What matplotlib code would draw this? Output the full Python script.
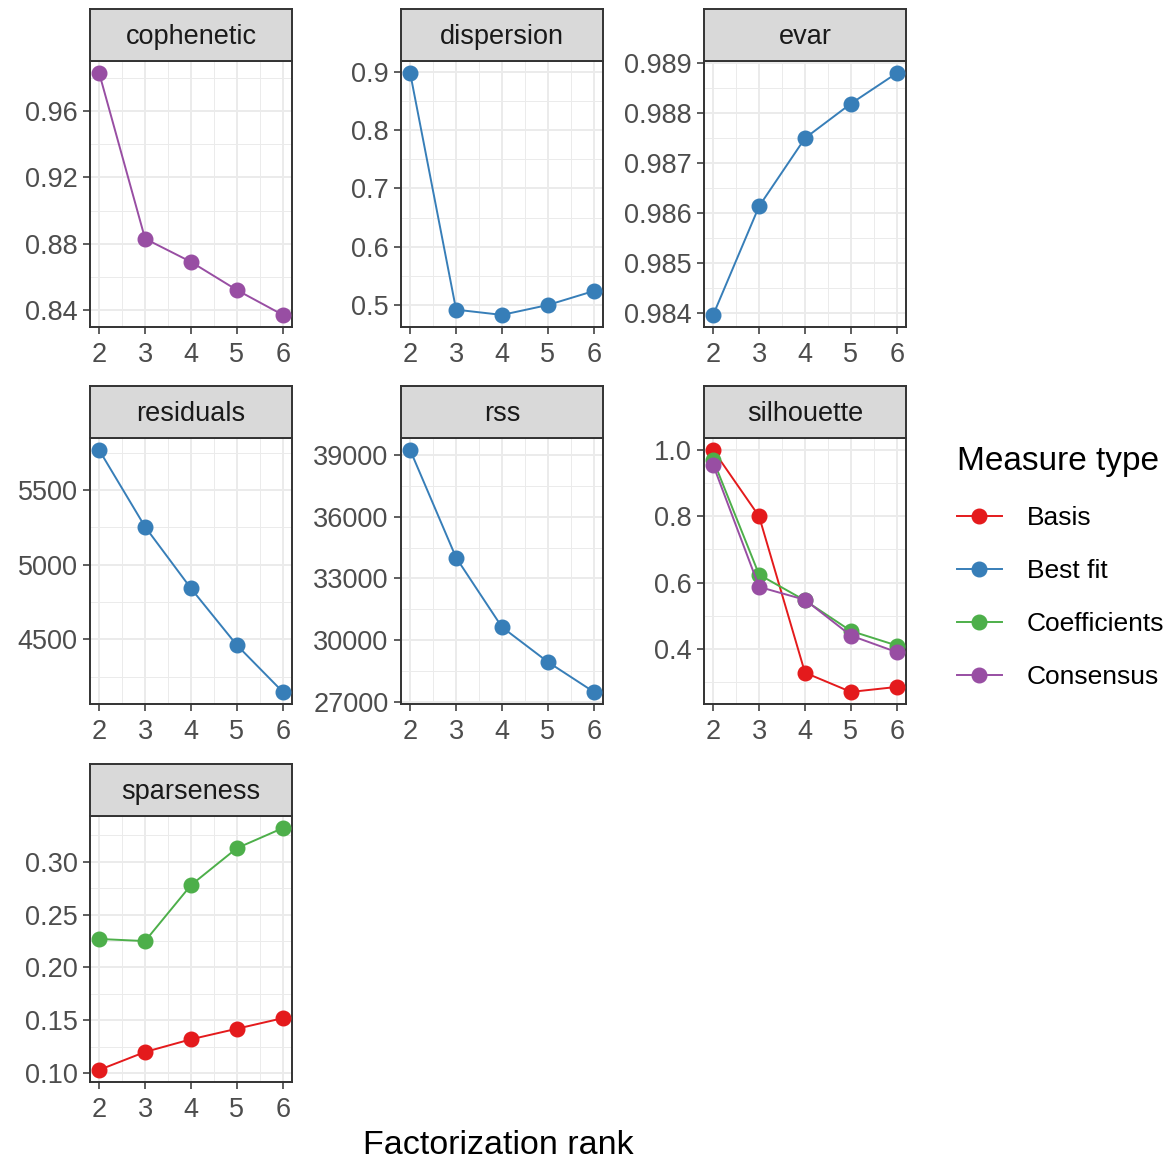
import numpy as np
import matplotlib
matplotlib.use("Agg")
import matplotlib.pyplot as plt
from matplotlib.lines import Line2D
from matplotlib.ticker import AutoMinorLocator, FixedLocator

plt.rcParams['font.family'] = ['Liberation Sans', 'DejaVu Sans']

ranks = [2, 3, 4, 5, 6]

# values
cophenetic_consensus = [0.983, 0.883, 0.869, 0.852, 0.837]
dispersion_bestfit = [0.898, 0.492, 0.483, 0.500, 0.524]
evar_bestfit = [0.98397, 0.98614, 0.98750, 0.98819, 0.98880]
residuals_bestfit = [5767, 5253, 4840, 4460, 4147]
rss_bestfit = [39240, 34010, 30630, 28935, 27480]
silhouette_basis = [1.000, 0.800, 0.328, 0.270, 0.285]
silhouette_coef = [0.970, 0.624, 0.546, 0.454, 0.410]
silhouette_consensus = [0.955, 0.587, 0.548, 0.440, 0.390]
sparseness_basis = [0.103, 0.120, 0.132, 0.142, 0.152]
sparseness_coef = [0.227, 0.225, 0.278, 0.313, 0.332]

types = ['Basis', 'Best fit', 'Coefficients', 'Consensus']
colors = {'Basis': '#E41A1C', 'Best fit': '#377EB8',
          'Coefficients': '#4DAF4A', 'Consensus': '#984EA3'}

panels = [
    ('cophenetic', [('Consensus', cophenetic_consensus)], [0.84, 0.88, 0.92, 0.96], '{:.2f}'),
    ('dispersion', [('Best fit', dispersion_bestfit)], [0.5, 0.6, 0.7, 0.8, 0.9], '{:.1f}'),
    ('evar', [('Best fit', evar_bestfit)], [0.984, 0.985, 0.986, 0.987, 0.988, 0.989], '{:.3f}'),
    ('residuals', [('Best fit', residuals_bestfit)], [4500, 5000, 5500], '{:.0f}'),
    ('rss', [('Best fit', rss_bestfit)], [27000, 30000, 33000, 36000, 39000], '{:.0f}'),
    ('silhouette', [('Basis', silhouette_basis), ('Coefficients', silhouette_coef),
                    ('Consensus', silhouette_consensus)], [0.4, 0.6, 0.8, 1.0], '{:.1f}'),
    ('sparseness', [('Basis', sparseness_basis), ('Coefficients', sparseness_coef)],
     [0.10, 0.15, 0.20, 0.25, 0.30], '{:.2f}'),
]

W, H = 1170, 1165
fig = plt.figure(figsize=(W / 100, H / 100), dpi=100)

col_left = [90, 401, 704]
row_top = [9, 386, 764]
PW, SH, PH = 202, 52, 266

for i, (name, series, yticks, fmt) in enumerate(panels):
    left = col_left[i % 3]
    top = row_top[i // 3]
    ax = fig.add_axes([left / W, 1 - (top + SH + PH) / H, PW / W, PH / H])
    st = fig.add_axes([left / W, 1 - (top + SH) / H, PW / W, SH / H])

    for kind, vals in series:
        ax.plot(ranks, vals, color=colors[kind], lw=1.4, marker='o', ms=10.5, zorder=3)

    allv = np.concatenate([v for _, v in series])
    lo, hi = allv.min(), allv.max()
    pad = (hi - lo) * 0.05
    ax.set_ylim(lo - pad, hi + pad)
    ax.set_xlim(1.8, 6.2)
    ax.xaxis.set_major_locator(FixedLocator(ranks))
    ax.yaxis.set_major_locator(FixedLocator(yticks))
    ax.set_yticklabels([fmt.format(t) for t in yticks])
    ax.xaxis.set_minor_locator(AutoMinorLocator(2))
    ax.yaxis.set_minor_locator(AutoMinorLocator(2))
    ax.grid(which='major', color='#EBEBEB', lw=1.4, zorder=0)
    ax.grid(which='minor', color='#EBEBEB', lw=0.7, zorder=0)
    ax.set_axisbelow(True)
    ax.tick_params(which='major', length=5, width=1.1, color='#333333',
                   labelsize=19.5, labelcolor='#4D4D4D')
    ax.tick_params(axis='x', which='major', pad=6)
    ax.tick_params(axis='y', which='major', pad=4)
    ax.tick_params(which='minor', length=0)
    for s in ax.spines.values():
        s.set_color('#333333')
        s.set_linewidth(1.4)

    st.set_facecolor('#D9D9D9')
    st.set_xticks([])
    st.set_yticks([])
    for s in st.spines.values():
        s.set_color('#333333')
        s.set_linewidth(1.4)
    st.text(0.5, 0.46, name, ha='center', va='center', fontsize=19.5,
            color='#1A1A1A', transform=st.transAxes)

handles = [Line2D([], [], color=colors[t], lw=1.4, marker='o', ms=10.5) for t in types]
leg = fig.legend(handles, types, loc='upper left', bbox_to_anchor=(957 / W, 1 - 446 / H),
                 frameon=False, title='Measure type', title_fontsize=24, fontsize=19,
                 alignment='left', borderpad=0, borderaxespad=0, handlelength=1.7,
                 handletextpad=0.95, labelspacing=1.1)

fig.text(498 / W, 1 - 1145 / H, 'Factorization rank', ha='center', va='center',
         fontsize=24.5, color='black')

fig.savefig('out.png', dpi=100)
